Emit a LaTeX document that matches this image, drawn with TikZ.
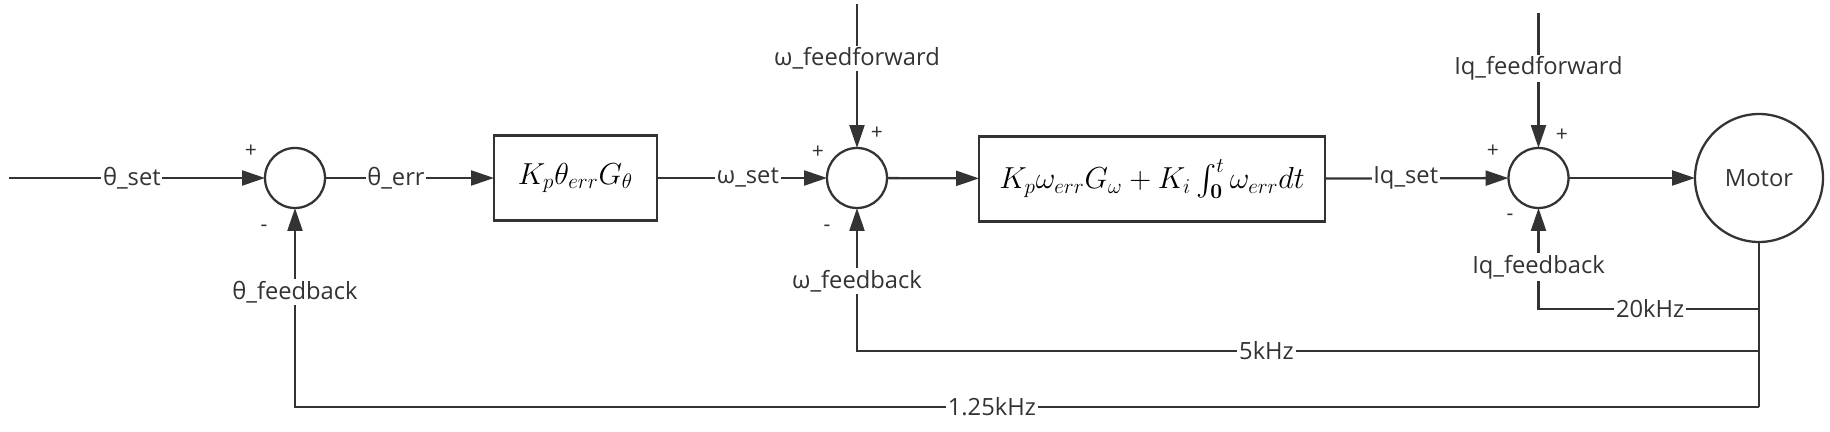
\documentclass[tikz,border=0pt]{standalone}
\usepackage{amsmath}
\usepackage[no-math]{fontspec}
\setmainfont{Open Sans}
\usepackage{xcolor}
\definecolor{LineGray}{HTML}{333333}
\usetikzlibrary{arrows.meta}
\tikzset{
  % Block styles
  sumnode/.style={circle, draw=LineGray, line width=1.3pt, minimum size=1.2cm, inner sep=0pt, outer sep=0pt},
  gainbox/.style={rectangle, draw=LineGray, line width=1.3pt, minimum height=1.7cm, inner sep=0pt, outer sep=0pt, font=\fontsize{17.28}{20}\selectfont},
  motornode/.style={circle, draw=LineGray, line width=1.3pt, minimum size=2.56cm, inner sep=0pt, outer sep=0pt, font=\fontsize{13.5}{15}\selectfont, text=LineGray},
  % Arrow styles
  arrow/.style={-{Triangle[length=0.46cm, width=0.3cm]}, line width=1.3pt, LineGray},
  wire/.style={line width=1.3pt, LineGray},
  % Label styles
  siglabel/.style={fill=white, inner sep=1pt, font=\fontsize{13.5}{15}\selectfont, text=LineGray},
  signlabel/.style={font=\fontsize{12}{14}\selectfont, text=LineGray, inner sep=0pt}
}

\begin{document}
\begin{tikzpicture}[x=0.02cm, y=-0.02cm]
  \useasboundingbox (0,0) rectangle (1830,432);

  % Blocks
  \node[sumnode] (sumA) at (295,178) {};
  \node[gainbox, minimum width=3.26cm] (posctl) at (575.5,178) {$K_p\theta_{err}G_\theta$};
  \node[sumnode] (sumB) at (857,178) {};
  \node[gainbox, minimum width=6.92cm] (spdctl) at (1152,179) {$K_p\omega_{err}G_\omega+K_i\int_{\mathbf{0}}^{t}\omega_{err}dt$};
  \node[sumnode] (sumC) at (1538.5,178) {};
  \node[motornode] (motor) at (1759,178) {Motor};

  % Free ends
  \coordinate (thin) at (9,178);
  \coordinate (wff) at (857,4);
  \coordinate (iqff) at (1538.5,13);
  \coordinate (tap20) at (1759,309);
  \coordinate (tap5) at (1759,351);
  \coordinate (tap125) at (1759,407);

  % Forward path
  \draw[arrow] (thin) -- node[siglabel, pos=0.48] {θ\_set} (sumA);
  \draw[arrow] (sumA) -- node[siglabel, pos=0.42] {θ\_err} (posctl);
  \draw[arrow] (posctl) -- node[siglabel, pos=0.535] {ω\_set} (sumB);
  \draw[arrow] (sumB) -- (spdctl);
  \draw[arrow] (spdctl) -- node[siglabel, pos=0.44] {Iq\_set} (sumC);
  \draw[arrow] (sumC) -- (motor);

  % Feedforward
  \draw[arrow] (wff) -- node[siglabel, pos=0.38] {ω\_feedforward} (sumB);
  \draw[arrow] (iqff) -- node[siglabel, pos=0.41] {Iq\_feedforward} (sumC);

  % Feedback
  \draw[wire] (motor.south) -- (tap125);
  \draw[arrow] (tap20) -| node[siglabel, pos=0.247] {20kHz} node[siglabel, pos=0.708] {Iq\_feedback} (sumC);
  \draw[arrow] (tap5) -| node[siglabel, pos=0.273] {5kHz} node[siglabel, pos=0.745] {ω\_feedback} (sumB);
  \draw[arrow] (tap125) -| node[siglabel, pos=0.262] {1.25kHz} node[siglabel, pos=0.789] {θ\_feedback} (sumA);

  % Signs
  \node[signlabel] (plusA) at (251,151) {+};
  \node[signlabel] (minusA) at (264,228) {-};
  \node[signlabel] (plusB) at (818,152) {+};
  \node[signlabel] (plusBff) at (877,133) {+};
  \node[signlabel] (minusB) at (827,228) {-};
  \node[signlabel] (plusC) at (1493,151) {+};
  \node[signlabel] (plusCff) at (1562,135) {+};
  \node[signlabel] (minusC) at (1510,217) {-};
\end{tikzpicture}
\end{document}
